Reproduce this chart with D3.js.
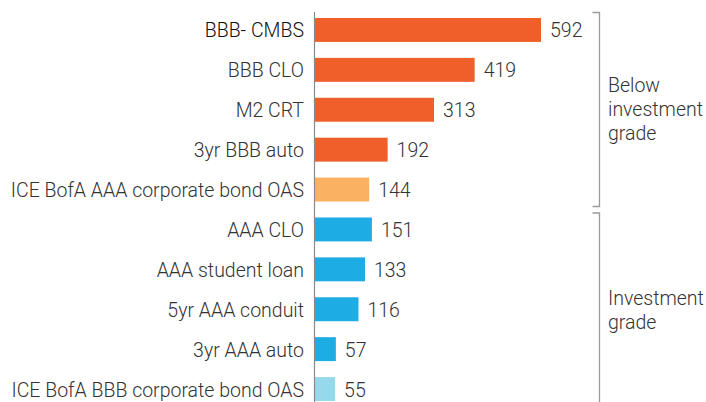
<!DOCTYPE html>
<html><head><meta charset="utf-8">
<script src="https://cdn.jsdelivr.net/npm/d3@7"></script>
<style>
body{margin:0;background:#fff;}
svg text{font-family:Roboto, "Noto Sans", sans-serif;font-weight:300;}
</style></head>
<body>
<svg id="chart" width="706" height="402"></svg>
<script>
const categories = ["BBB- CMBS","BBB CLO","M2 CRT","3yr BBB auto","ICE BofA AAA corporate bond OAS","AAA CLO","AAA student loan","5yr AAA conduit","3yr AAA auto","ICE BofA BBB corporate bond OAS"];
const values = [592,419,313,192,144,151,133,116,57,55];
const colors = ["#F05F2A","#F05F2A","#F05F2A","#F05F2A","#FBB162","#1DACE3","#1DACE3","#1DACE3","#1DACE3","#97D9EC"];
const groups = [{label:["Below","investment","grade"], from:0, to:4},{label:["Investment","grade"], from:5, to:9}];

const svg = d3.select("#chart");
const x0 = 314;
const x = d3.scaleLinear().domain([0,592]).range([x0,541]);
const y = d3.scaleBand().domain(categories).range([10,409]).paddingInner(0.4).paddingOuter(0.2);

svg.selectAll("rect.bar").data(values).join("rect")
  .attr("class","bar")
  .attr("x", x(0))
  .attr("y",(d,i)=>y(categories[i]))
  .attr("width",d=>x(d)-x(0))
  .attr("height",y.bandwidth())
  .attr("fill",(d,i)=>colors[i]);

svg.append("line").attr("x1",x0+0.5).attr("x2",x0+0.5).attr("y1",12).attr("y2",402)
  .attr("stroke","#8a8a8a").attr("stroke-width",1.2);

svg.selectAll("text.cat").data(categories).join("text")
  .attr("class","cat")
  .attr("x",304)
  .attr("y",d=>y(d)+y.bandwidth()/2+7.5)
  .attr("text-anchor","end")
  .attr("font-size",19.5)
  .attr("fill",(d,i)=>i===0?"#111":"#333")
  .text(d=>d);

svg.selectAll("text.val").data(values).join("text")
  .attr("class","val")
  .attr("x",d=>x(d)+9)
  .attr("y",(d,i)=>y(categories[i])+y.bandwidth()/2+7.5)
  .attr("font-size",19.5)
  .attr("fill","#333")
  .text(d=>d);

const bx = 599.5;
const bracketTop = [12.5, 213];
const bracketBot = [206.5, 410];
const bracketTextY = [92, 305];
groups.forEach((g,gi)=>{
  const t = bracketTop[gi], b = bracketBot[gi];
  svg.append("path")
    .attr("d",`M${bx-7},${t}H${bx}V${b}H${bx-7}`)
    .attr("fill","none").attr("stroke","#9a9a9a").attr("stroke-width",1.3);
  const txt = svg.append("text").attr("x",608).attr("y",bracketTextY[gi])
    .attr("font-size",19.5).attr("fill","#333");
  g.label.forEach((l,li)=>{
    txt.append("tspan").attr("x",608).attr("dy",li===0?0:24).text(l);
  });
});
</script>
</body></html>
